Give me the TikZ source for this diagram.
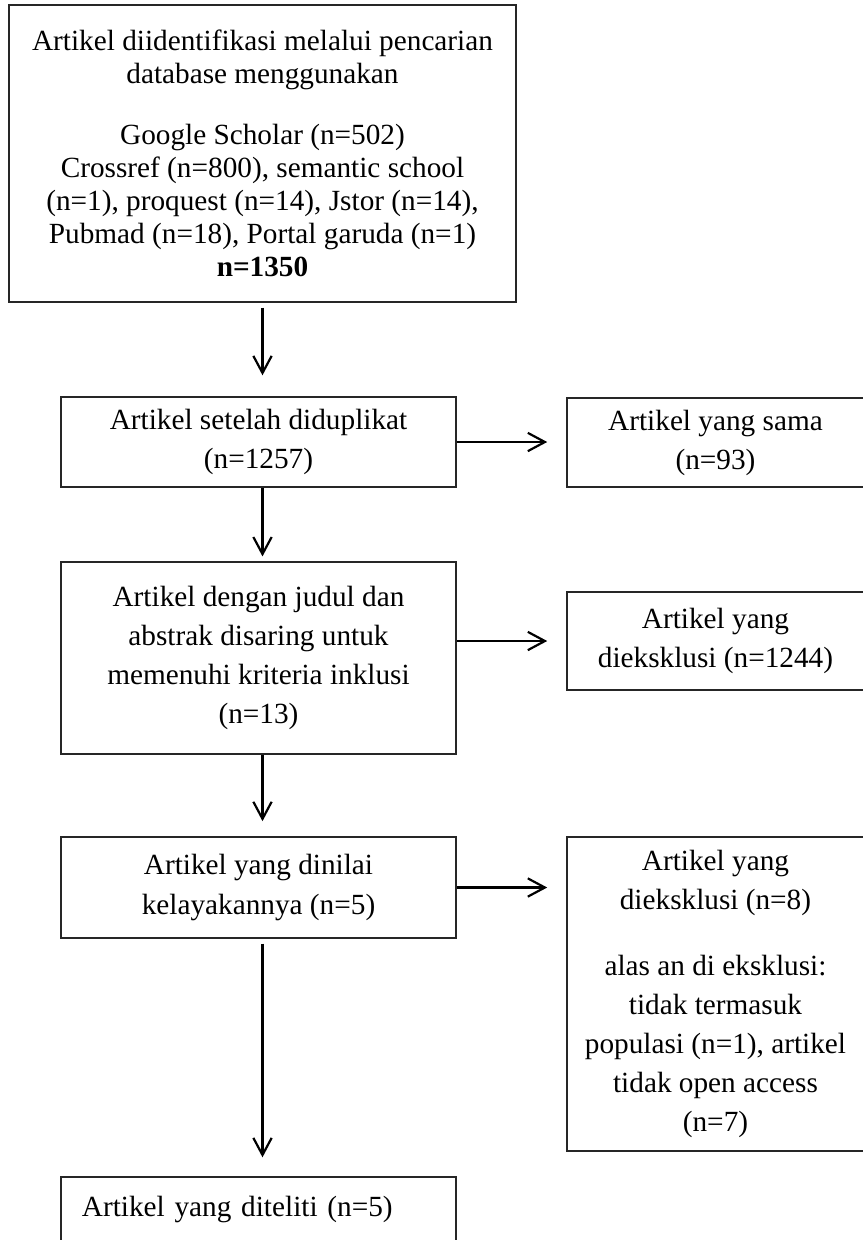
\documentclass[tikz,border=0pt]{standalone}
\usepackage{fontspec}
\setmainfont{Liberation Serif}
\usetikzlibrary{arrows.meta,positioning}

\begin{document}
\begin{tikzpicture}[x=0.41pt,y=-0.41pt,
  box/.style={draw=black!85,line width=0.6pt,inner sep=0pt,align=center,font=\fontsize{12}{16}\selectfont},
  flow/.style={draw,line width=0.9pt,-{Straight Barb[length=7pt,width=7.5pt,line width=0.9pt]}}]
\useasboundingbox (0,0) rectangle (863,1240);
\node[box,minimum width=207.9pt,minimum height=121.8pt,font=\fontsize{12}{13.6}\selectfont] (search) at (262.5,153.5) {Artikel diidentifikasi melalui pencarian\\database menggunakan\\[11.2pt]Google Scholar (n=502)\\Crossref (n=800), semantic school\\(n=1), proquest (n=14), Jstor (n=14),\\Pubmad (n=18), Portal garuda (n=1)\\\textbf{n=1350}};
\node[box,minimum width=162pt,minimum height=36.9pt] (dedup) at (258.5,442) {Artikel setelah diduplikat\\(n=1257)};
\node[box,minimum width=121.8pt,minimum height=36.5pt] (same) at (715.5,442.5) {Artikel yang sama\\(n=93)};
\node[box,minimum width=162pt,minimum height=78.7pt] (screen) at (258.5,658) {Artikel dengan judul dan\\abstrak disaring untuk\\memenuhi kriteria inklusi\\(n=13)};
\node[box,minimum width=121.8pt,minimum height=40.2pt] (excl1) at (715.5,641) {Artikel yang\\dieksklusi (n=1244)};
\node[box,minimum width=162pt,minimum height=41.4pt] (elig) at (258.5,887.5) {Artikel yang dinilai\\kelayakannya (n=5)};
\node[box,minimum width=121.8pt,minimum height=128.7pt] (excl2) at (715.5,994) {Artikel yang\\dieksklusi (n=8)\\[11pt]alas an di eksklusi:\\tidak termasuk\\populasi (n=1), artikel\\tidak open access\\(n=7)};
\node[box,minimum width=162pt,minimum height=26.2pt,inner xsep=8.6pt,text width=144.8pt,align=left] (incl) at (258.5,1209) {Artikel yang diteliti (n=5)};
% vertical flow
\draw[flow,shorten <=2pt,shorten >=8.6pt] (search.south) -- (search.south |- dedup.north);
\draw[flow,shorten >=2pt] (dedup.south -| search.south) -- (search.south |- screen.north);
\draw[flow,shorten >=6.2pt] (screen.south -| search.south) -- (search.south |- elig.north);
\draw[flow,shorten <=2pt,shorten >=7.8pt] (elig.south -| search.south) -- (search.south |- incl.north);
% exclusions
\draw[flow,shorten >=7.8pt] (dedup.east) -- (dedup.east -| same.west);
\draw[flow,shorten >=7.8pt] (screen.east |- excl1.west) -- (excl1.west);
\draw[flow,shorten >=7.8pt] (elig.east) -- (elig.east -| excl2.west);
\end{tikzpicture}
\end{document}
